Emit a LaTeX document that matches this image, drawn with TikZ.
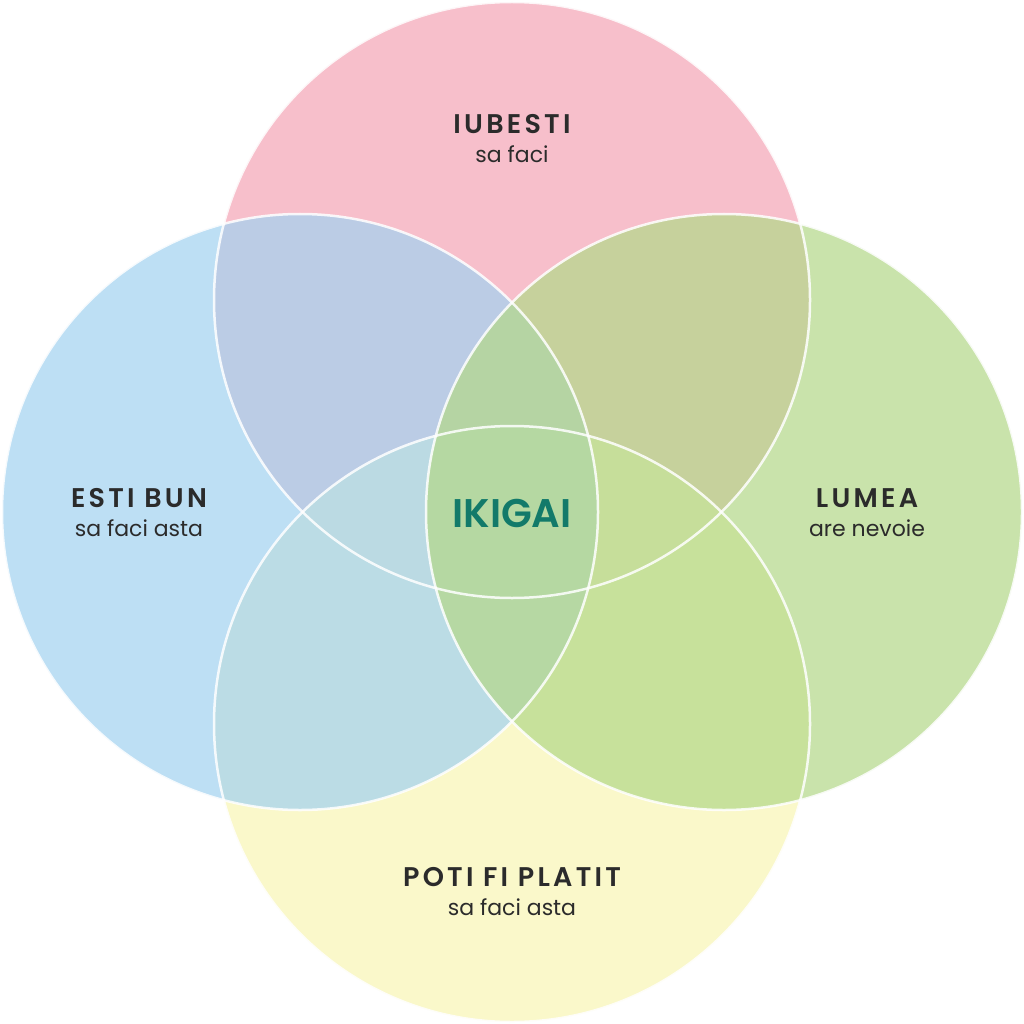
\documentclass[tikz,border=0pt]{standalone}
\usepackage{fontspec}
\usetikzlibrary{positioning}
\setmainfont{Poppins}
\newfontfamily\headfont[LetterSpace=12]{Poppins SemiBold}
\newfontfamily\ikifont{Poppins SemiBold}
\definecolor{pinkc}{HTML}{F7BFCB}
\definecolor{bluec}{HTML}{A4D2F0}
\definecolor{greenc}{HTML}{B4D88A}
\definecolor{yellowc}{HTML}{F9F7C4}
\definecolor{tealc}{HTML}{127A6A}
\definecolor{textc}{HTML}{2B2B2B}
\begin{document}
\begin{tikzpicture}[x=1pt,y=-1pt,
  petal/.style={fill opacity=0.72},
  rim/.style={draw=white,draw opacity=0.85,line width=2.5pt},
  head/.style={font=\headfont\fontsize{27}{30}\selectfont,text=textc,inner sep=0pt},
  sub/.style={font=\fontsize{22}{26}\selectfont,text=textc,inner sep=0pt}]
\useasboundingbox (0,0) rectangle (1024,1024);
\fill[pinkc] (512,300) circle (298);
\fill[yellowc,fill opacity=0.9] (512,724) circle (298);
\fill[bluec,petal] (300,512) circle (298);
\fill[greenc,petal] (724,512) circle (298);
\foreach \cx/\cy in {512/300,300/512,724/512,512/724}
  \draw[rim] (\cx,\cy) circle (298);
% labels
\node[head] (love) at (512,124) {IUBESTI};
\node[sub,below=12pt of love] (lovesub) {sa faci};
\node[head] (good) at (139,498) {ESTI BUN};
\node[sub,below=12pt of good] (goodsub) {sa faci asta};
\node[head] (need) at (867,498) {LUMEA};
\node[sub,below=12pt of need] (needsub) {are nevoie};
\node[head] (paid) at (512,877) {POTI FI PLATIT};
\node[sub,below=12pt of paid] (paidsub) {sa faci asta};
\node[font=\ikifont\fontsize{40}{44}\selectfont,text=tealc,inner sep=0pt] (iki) at (512,513) {IKIGAI};
\end{tikzpicture}
\end{document}
